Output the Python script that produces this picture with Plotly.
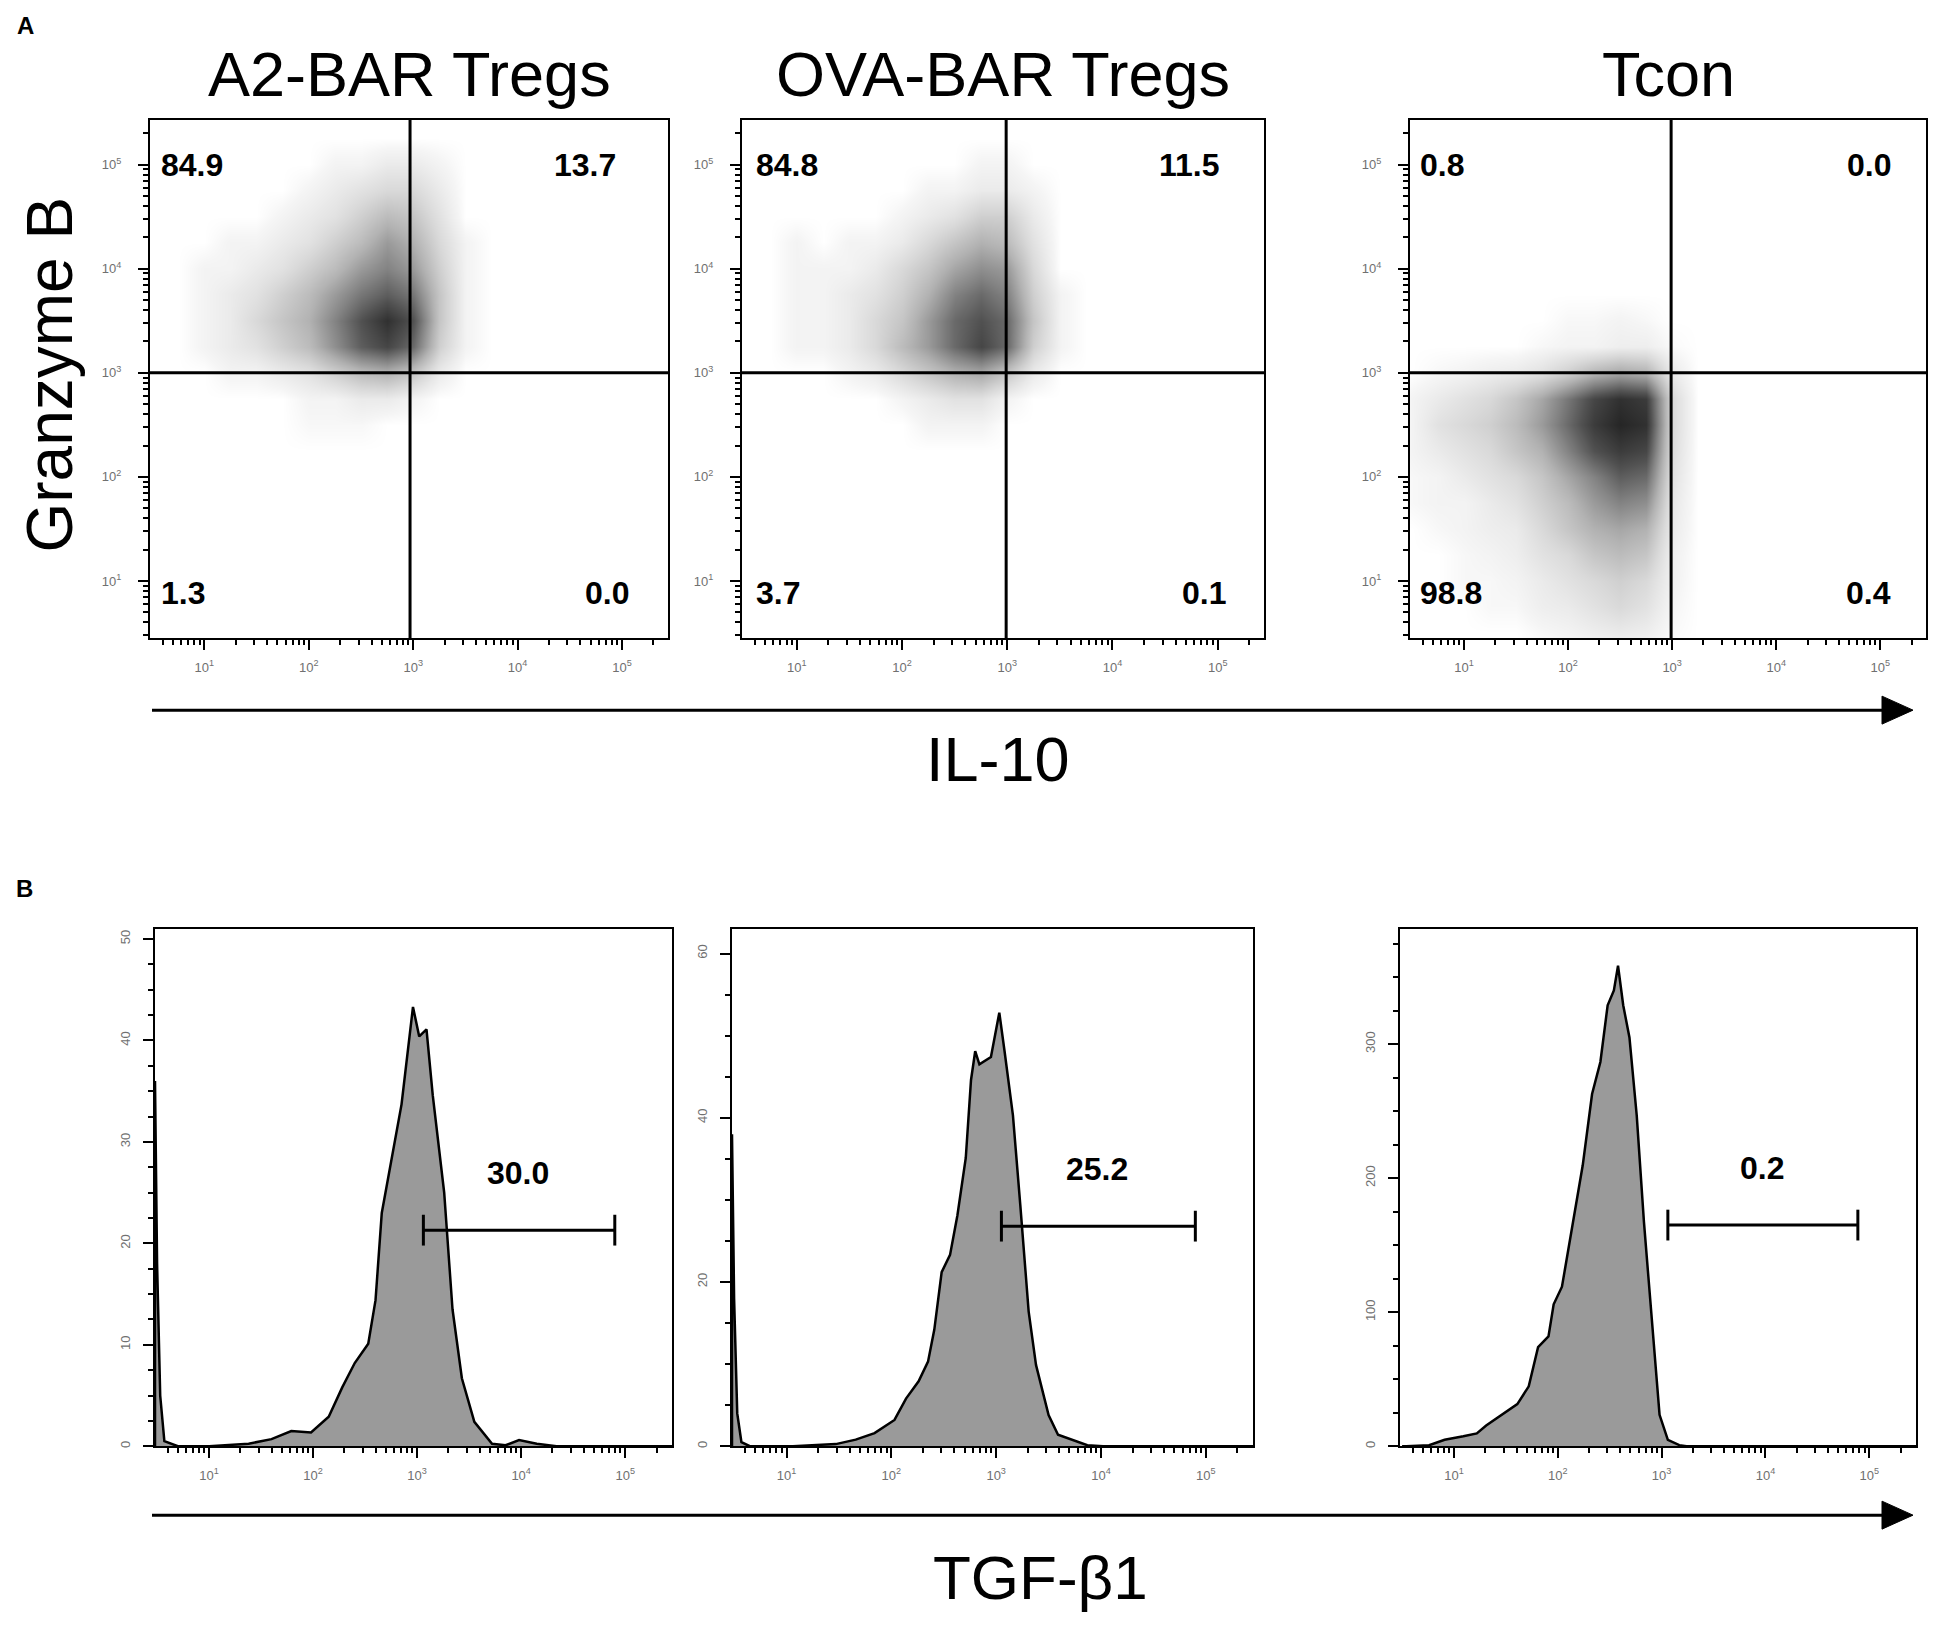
import numpy as np
import plotly.graph_objects as go

W, H = 1950, 1625
FONT = "Liberation Sans, Arial, sans-serif"

# ---------------- panel A : IL-10 (x) vs Granzyme B (y), values in log10 units ----------------
panel_titles = ["A2-BAR Tregs", "OVA-BAR Tregs", "Tcon"]
quad_pcts = [  # upper-left, upper-right, lower-left, lower-right
    ["84.9", "13.7", "1.3", "0.0"],
    ["84.8", "11.5", "3.7", "0.1"],
    ["0.8", "0.0", "98.8", "0.4"],
]
quad_gate_x = [2.97, 2.99, 2.99]
quad_gate_y = [3.0, 3.0, 3.0]

# cell density estimated from the dot plots (0 = empty, 10 = solid black), rows top -> bottom
treg_grid_x = [1.0, 1.25, 1.5, 1.75, 2.0, 2.25, 2.5, 2.75, 3.0, 3.25, 3.5]
treg_grid_y = [5.0, 4.75, 4.5, 4.25, 4.0, 3.75, 3.5, 3.25, 3.0, 2.75, 2.5]
a2_bar_density = [
    [0, 0, 0, 0, 0, 0.5, 0.5, 1, 1, 0.5, 0],
    [0, 0, 0, 0, 0.5, 1, 1.5, 2, 2, 1, 0],
    [0, 0, 0, 0.5, 1, 1.5, 2.5, 3.5, 3, 1.5, 0],
    [0, 0.5, 0.5, 1, 1.5, 2.5, 3.5, 5, 4, 2, 0.5],
    [0.5, 0.5, 1, 1.5, 2.5, 3.5, 5, 6, 5, 2.5, 0.5],
    [0.5, 1, 1.5, 2.5, 3.5, 5, 6.5, 7.5, 6.5, 3, 0.5],
    [0.5, 1, 2, 3, 4, 6, 8, 9.5, 8, 3, 0.5],
    [0.5, 1, 1.5, 2.5, 3.5, 5.5, 7.5, 8.5, 7, 2.5, 0.5],
    [0, 0.5, 0.5, 1, 1.5, 2.5, 3.5, 4, 3, 1, 0],
    [0, 0, 0, 0, 0.5, 0.5, 1, 1, 0.5, 0, 0],
    [0, 0, 0, 0, 0.3, 0.3, 0.3, 0, 0, 0, 0],
]
ova_bar_density = [
    [0, 0, 0, 0, 0, 0, 0, 0.5, 0.5, 0, 0],
    [0, 0, 0, 0, 0, 0.5, 0.5, 1, 1, 0.5, 0],
    [0, 0, 0, 0, 0.5, 1, 1.5, 2.5, 2.5, 1, 0],
    [0.5, 0, 0.5, 0.5, 1, 2, 3, 4, 3.5, 1.5, 0],
    [0.5, 0.5, 0.5, 1, 2, 3, 4.5, 5.5, 5, 2, 0],
    [0.5, 0.5, 1, 1.5, 2.5, 4, 6, 7, 6, 2.5, 0.5],
    [0.5, 0.5, 1, 2, 3, 5, 7, 8, 7, 3, 0.5],
    [0.5, 0.5, 1, 2, 3.5, 5, 7, 8.5, 7, 2.5, 0.5],
    [0, 0, 0.5, 1, 2, 3, 4, 4.5, 3, 1, 0],
    [0, 0, 0, 0, 0.5, 1, 1.5, 1.5, 0.5, 0, 0],
    [0, 0, 0, 0, 0, 0.5, 0.5, 0.5, 0, 0, 0],
]
tcon_grid_x = [0.5, 0.75, 1.0, 1.25, 1.5, 1.75, 2.0, 2.25, 2.5, 2.75, 3.0, 3.25]
tcon_grid_y = [3.5, 3.25, 3.0, 2.75, 2.5, 2.25, 2.0, 1.75, 1.5, 1.25, 1.0, 0.75, 0.5]
tcon_density = [
    [0, 0, 0, 0, 0, 0, 0.3, 0.3, 0.5, 0.3, 0, 0],
    [0, 0, 0, 0, 0, 0.3, 0.5, 0.5, 0.8, 0.8, 0.2, 0],
    [0, 0.3, 0.5, 0.8, 1, 1.5, 2.5, 3.8, 4.5, 4, 1, 0],
    [0.5, 1, 1.5, 2, 3, 4.5, 6.5, 8.5, 9.5, 9, 2, 0],
    [0.5, 1.5, 2, 2.5, 3.5, 5, 7, 9, 10, 9.5, 2, 0],
    [0.5, 1, 1.5, 2, 3, 4, 6, 8, 9, 8.5, 1.8, 0],
    [0.3, 0.5, 1, 1.5, 2, 3, 4.5, 6, 7.5, 7, 1.5, 0],
    [0.3, 0.5, 0.5, 1, 1.5, 2.5, 3.5, 5, 6, 5.5, 1.2, 0],
    [0, 0.3, 0.5, 0.8, 1, 2, 3, 4, 4.5, 4, 1, 0],
    [0, 0, 0.3, 0.5, 0.8, 1.5, 2, 3, 3.5, 3, 0.7, 0],
    [0, 0, 0.3, 0.3, 0.5, 1, 1.5, 2, 2.5, 2, 0.6, 0],
    [0, 0, 0, 0.3, 0.3, 0.8, 1, 1.5, 2, 1.5, 0.4, 0],
    [0, 0, 0, 0, 0, 0.3, 0.5, 0.8, 1, 0.8, 0.2, 0],
]

# ---------------- panel B : TGF-b1 histograms (x in log10 units, y = count) ----------------
a2_hist_x = [0.48, 0.48, 0.5, 0.53, 0.57, 0.7, 1.0, 1.38, 1.6, 1.79, 1.98, 2.15, 2.28, 2.4, 2.53, 2.6,
             2.66, 2.74, 2.85, 2.96, 3.02, 3.09, 3.15, 3.26, 3.34, 3.43, 3.55, 3.72, 3.85, 3.98, 4.15,
             4.34, 5.45]
a2_hist_y = [0, 36, 18, 5, 0.5, 0, 0, 0.25, 0.7, 1.5, 1.35, 2.9, 5.8, 8.2, 10.1, 14.4,
             23, 27.4, 33.7, 43.3, 40.4, 41.1, 34.6, 25, 13.5, 6.7, 2.4, 0.25, 0.1, 0.6, 0.25,
             0, 0]
ova_hist_x = [0.48, 0.48, 0.5, 0.53, 0.57, 0.65, 1.06, 1.47, 1.66, 1.84, 2.03, 2.14, 2.26, 2.35, 2.41,
              2.48, 2.56, 2.63, 2.71, 2.76, 2.8, 2.84, 2.95, 3.03, 3.08, 3.16, 3.23, 3.31, 3.38, 3.5,
              3.59, 3.72, 3.87, 4.02, 5.45]
ova_hist_y = [0, 38, 18, 4, 0.5, 0, 0, 0.26, 0.8, 1.6, 3.2, 5.8, 7.9, 10.3, 14.2,
              21.2, 23.3, 28.1, 35.1, 44.6, 48.1, 46.5, 47.4, 52.8, 48.1, 40.3, 29.4, 16.4, 9.9, 3.8,
              1.4, 0.8, 0.13, 0, 0]
tcon_hist_x = [0.5, 0.54, 0.76, 0.91, 1.09, 1.22, 1.31, 1.46, 1.61, 1.72, 1.81, 1.91, 1.96, 2.04, 2.13,
               2.24, 2.33, 2.41, 2.48, 2.54, 2.58, 2.63, 2.69, 2.76, 2.83, 2.91, 2.98, 3.06, 3.17, 3.24,
               5.45]
tcon_hist_y = [0, 0, 0.8, 4.8, 7.4, 9.6, 15.4, 23.4, 31.4, 44.7, 73.9, 81.9, 105.9, 119, 159,
               209.6, 262.8, 286.7, 329, 340, 358.5, 329, 305, 246.8, 167, 87, 23.4, 4.8, 0.8, 0,
               0]
hist_ymax = [51, 63, 386]
hist_yticks = [[0, 10, 20, 30, 40, 50], [0, 20, 40, 60], [0, 100, 200, 300]]
gate_pcts = ["30.0", "25.2", "0.2"]
gate_start = [3.06, 3.05, 3.06]
gate_end = [4.9, 4.9, 4.89]
gate_level = [21.3, 26.8, 165]

decade_vals = [1, 2, 3, 4, 5]
decade_text = ["10<sup>1</sup>", "10<sup>2</sup>", "10<sup>3</sup>", "10<sup>4</sup>", "10<sup>5</sup>"]
minor_log = [n + np.log10(k) for n in range(0, 6) for k in range(2, 10)]


def px(x):
    return x / W


def py(y):
    return 1 - y / H


def pad_empty(xs, ys, z, step=0.25):
    # surround the density grid with empty cells so the smoothed image fades out
    xs = [xs[0] - step] + list(xs) + [xs[-1] + step]
    ys = [ys[0] + step] + list(ys) + [ys[-1] - step]
    z = np.pad(np.array(z, dtype=float), 1)
    return xs, ys, z


# panel boxes in pixels (left, right) and rows (top, bottom)
col_a = [(142, 660), (734, 1256), (1402, 1918)]
col_b = [(147, 664), (724, 1245), (1392, 1908)]
row_a = (112, 631)
row_b = (922, 1440)

grey_scale = [[0.0, "#ffffff"], [0.04, "#f5f5f5"], [0.2, "#d9d9d9"], [0.4, "#b2b2b2"],
              [0.6, "#838383"], [0.8, "#515151"], [1.0, "#262626"]]

axis_common = dict(showline=True, linecolor="black", linewidth=2, mirror=True, showgrid=False,
                   zeroline=False, ticks="outside", ticklen=10, tickwidth=2, tickcolor="black",
                   tickfont=dict(size=13, color="#707070", family=FONT))


def log_axis(domain, rng, anchor, standoff):
    return dict(axis_common, domain=domain, range=rng, anchor=anchor, tickmode="array",
                tickvals=decade_vals, ticktext=decade_text, ticklabelstandoff=standoff,
                minor=dict(tickmode="array", tickvals=[v for v in minor_log if rng[0] < v < rng[1]],
                           ticks="outside", ticklen=5, tickwidth=1.5, tickcolor="black"))


def note(text, x, y, size, xref="paper", yref="paper", xanchor="center", **kw):
    return dict(text=text, x=x, y=y, xref=xref, yref=yref, xanchor=xanchor, yanchor="middle",
                showarrow=False, font=dict(size=size, color="black", family=FONT), **kw)


fig = go.Figure()
layout = {}
shapes = []
annotations = []

dens = [(treg_grid_x, treg_grid_y, a2_bar_density),
        (treg_grid_x, treg_grid_y, ova_bar_density),
        (tcon_grid_x, tcon_grid_y, tcon_density)]
label_left = [0.565, 0.59, 0.56]
label_right = [[4.96, 5.09], [5.04, 5.1], [5.12, 5.12]]

for i in range(3):
    xn, yn = (f"x{i + 1}", f"y{i + 1}") if i else ("x", "y")
    xa, ya = (f"xaxis{i + 1}", f"yaxis{i + 1}") if i else ("xaxis", "yaxis")
    gx, gy, gz = pad_empty(*dens[i])
    fig.add_trace(go.Heatmap(x=gx, y=gy[::-1], z=gz[::-1], zmin=0, zmax=10,
                             colorscale=grey_scale, zsmooth="best", showscale=False,
                             hoverinfo="skip", xaxis=xn, yaxis=yn))
    dx = [px(col_a[i][0]), px(col_a[i][1])]
    dy = [py(row_a[1]), py(row_a[0])]
    layout[xa] = log_axis(dx, [0.48, 5.44], yn, 6)
    layout[ya] = log_axis(dy, [0.45, 5.43], xn, 14)

    # quadrant gates
    shapes.append(dict(type="line", xref=xn, yref=yn, x0=quad_gate_x[i], x1=quad_gate_x[i],
                       y0=0.45, y1=5.43, line=dict(color="black", width=3)))
    shapes.append(dict(type="line", xref=xn, yref=yn, x0=0.48, x1=5.44, y0=quad_gate_y[i],
                       y1=quad_gate_y[i], line=dict(color="black", width=3)))
    ul, ur, ll, lr = quad_pcts[i]
    for txt, x, y, anc in [(ul, label_left[i], 5.0, "left"), (ur, label_right[i][0], 5.0, "right"),
                           (ll, label_left[i], 0.88, "left"), (lr, label_right[i][1], 0.88, "right")]:
        annotations.append(note(f"<b>{txt}</b>", x, y, 32, xref=xn, yref=yn, xanchor=anc))
    annotations.append(note(panel_titles[i], px(sum(col_a[i]) / 2), py(66), 63))

hists = [(a2_hist_x, a2_hist_y), (ova_hist_x, ova_hist_y), (tcon_hist_x, tcon_hist_y)]
for i in range(3):
    k = i + 4
    xn, yn = f"x{k}", f"y{k}"
    hx, hy = hists[i]
    fig.add_trace(go.Scatter(x=hx, y=hy, mode="lines", fill="tozeroy", fillcolor="#9a9a9a",
                             line=dict(color="black", width=2.5), hoverinfo="skip",
                             xaxis=xn, yaxis=yn))
    # positive gate bar
    fig.add_trace(go.Scatter(x=[gate_start[i], gate_end[i]], y=[gate_level[i], gate_level[i]],
                             mode="lines+markers", line=dict(color="black", width=3),
                             marker=dict(symbol="line-ns", size=22, line=dict(color="black", width=3)),
                             hoverinfo="skip", xaxis=xn, yaxis=yn))
    dx = [px(col_b[i][0]), px(col_b[i][1])]
    dy = [py(row_b[1]), py(row_b[0])]
    layout[f"xaxis{k}"] = log_axis(dx, [0.48, 5.45], yn, 6)
    step = hist_yticks[i][1]
    layout[f"yaxis{k}"] = dict(axis_common, domain=dy, range=[0, hist_ymax[i]], anchor=xn,
                               tickmode="array", tickvals=hist_yticks[i],
                               ticktext=[str(v) for v in hist_yticks[i]], tickangle=-90,
                               ticklabelstandoff=8,
                               minor=dict(dtick=step / 4, ticks="outside", ticklen=5, tickwidth=1.5,
                                          tickcolor="black"))
    ylab = gate_level[i] + (hist_ymax[i] * 0.11)
    annotations.append(note(f"<b>{gate_pcts[i]}</b>", (gate_start[i] + gate_end[i]) / 2 - 0.01, ylab,
                            32, xref=xn, yref=yn))

# axis arrows
for ay in (703, 1509):
    shapes.append(dict(type="line", xref="paper", yref="paper", x0=px(144), x1=px(1880),
                       y0=py(ay), y1=py(ay), line=dict(color="black", width=3)))
    shapes.append(dict(type="path", xref="paper", yref="paper", fillcolor="black",
                       line=dict(color="black", width=1),
                       path=f"M {px(1905)},{py(ay)} L {px(1874)},{py(ay - 14)} "
                            f"L {px(1874)},{py(ay + 14)} Z"))

annotations += [
    note("IL-10", px(990), py(752), 63),
    note("TGF-β1", px(1032), py(1571), 62),
    note("Granzyme B", px(42), py(367), 64, textangle=-90),
    note("<b>A</b>", px(17), py(18), 24),
    note("<b>B</b>", px(16), py(882), 24),
]

fig.update_layout(width=W, height=H, margin=dict(l=0, r=0, t=0, b=0), showlegend=False,
                  paper_bgcolor="white", plot_bgcolor="white", font=dict(family=FONT),
                  shapes=shapes, annotations=annotations, **layout)

fig.write_html("out.html")
